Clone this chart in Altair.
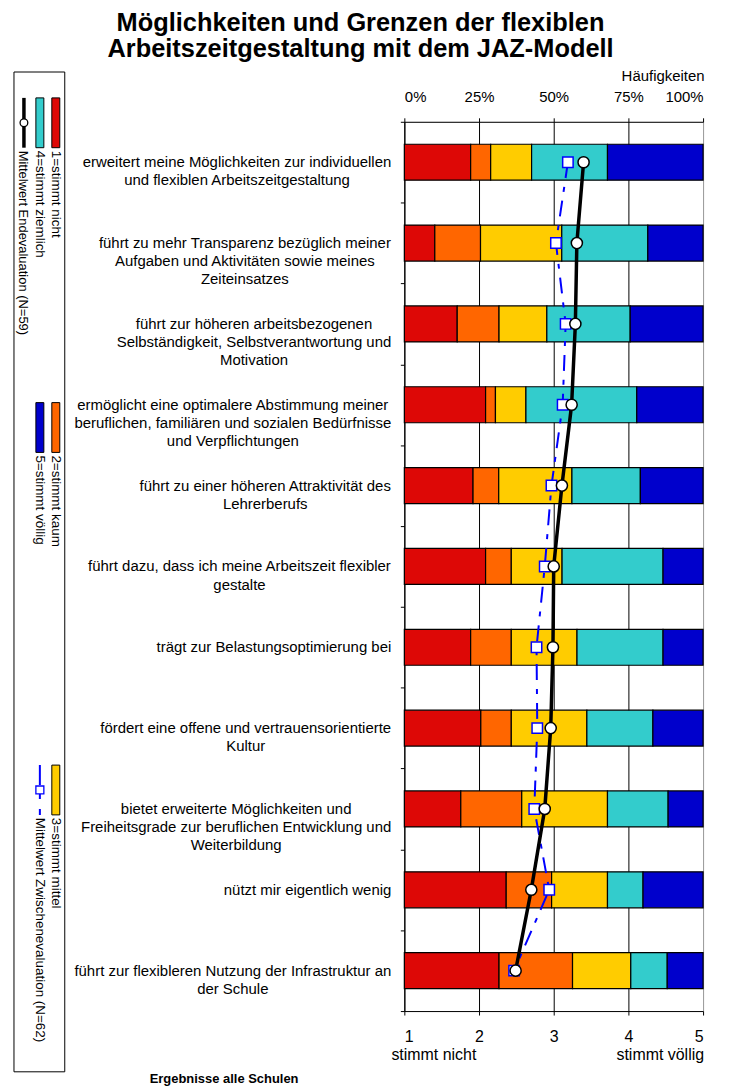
import altair as alt
import pandas as pd

# ---------------- data ----------------
label_lines = [
    ["erweitert meine Möglichkeiten zur individuellen", "und flexiblen Arbeitszeitgestaltung"],
    ["führt zu mehr Transparenz bezüglich meiner", "Aufgaben und Aktivitäten sowie meines", "Zeiteinsatzes"],
    ["führt zur höheren arbeitsbezogenen", "Selbständigkeit, Selbstverantwortung und", "Motivation"],
    ["ermöglicht eine optimalere Abstimmung meiner", "beruflichen, familiären und sozialen Bedürfnisse", "und Verpflichtungen"],
    ["führt zu einer höheren Attraktivität des", "Lehrerberufs"],
    ["führt dazu, dass ich meine Arbeitszeit flexibler", "gestalte"],
    ["trägt zur Belastungsoptimierung bei"],
    ["fördert eine offene und vertrauensorientierte", "Kultur"],
    ["bietet erweiterte Möglichkeiten und", "Freiheitsgrade zur beruflichen Entwicklung und", "Weiterbildung"],
    ["nützt mir eigentlich wenig"],
    ["führt zur flexibleren Nutzung der Infrastruktur an", "der Schule"],
]
categories = [" ".join(l) for l in label_lines]

level_labels = ["1=stimmt nicht", "2=stimmt kaum", "3=stimmt mittel", "4=stimmt ziemlich", "5=stimmt völlig"]
level_colors = ["#DD0806", "#FF6600", "#FFCC00", "#33CCCC", "#0000CC"]

# percentage shares per answer level (rows in category order)
pct_1 = [22.2, 10.2, 17.7, 27.2, 23.0, 27.2, 22.2, 25.6, 18.9, 34.1, 31.7]
pct_2 = [6.7, 15.3, 14.0, 3.3, 8.6, 8.6, 13.6, 10.2, 20.4, 15.2, 24.6]
pct_3 = [13.7, 27.2, 16.0, 10.2, 24.5, 17.0, 22.0, 25.3, 28.7, 18.7, 19.5]
pct_4 = [25.4, 28.8, 27.9, 37.1, 22.9, 33.8, 28.8, 22.1, 20.3, 11.9, 12.2]
pct_5 = [32.0, 18.5, 24.4, 22.2, 21.0, 13.4, 13.4, 16.8, 11.7, 20.1, 12.0]

mean_end = [3.40, 3.31, 3.29, 3.24, 3.11, 3.00, 2.99, 2.96, 2.88, 2.70, 2.49]
mean_zw = [3.19, 3.03, 3.16, 3.12, 2.97, 2.88, 2.77, 2.78, 2.74, 2.94, 2.47]

top_ticks = [0, 25, 50, 75, 100]
bottom_ticks = [1, 2, 3, 4, 5]
end_labels = ["stimmt nicht", "stimmt völlig"]
series_labels = ["Mittelwert Endevaluation (N=59)", "Mittelwert Zwischenevaluation  (N=62)"]
title_lines = ["Möglichkeiten und Grenzen der flexiblen", "Arbeitszeitgestaltung mit dem JAZ-Modell"]
footer = "Ergebnisse alle Schulen"

FONT = "Liberation Sans"
W, H = 300, 893

# ---------------- tables ----------------
pcts = [pct_1, pct_2, pct_3, pct_4, pct_5]
bars_df = pd.DataFrame(
    [{"cat": c, "level": j + 1, "pct": pcts[j][i]} for i, c in enumerate(categories) for j in range(5)]
)
score_df = pd.DataFrame({"cat": categories, "idx": list(range(len(categories))),
                         "end": mean_end, "zw": mean_zw})

# Arial / Liberation Sans advance widths (1/1000 em) for label block layout
AW = {" ": 278, ",": 278, ".": 278, "-": 333, "(": 333, ")": 333, "=": 584,
      "a": 556, "b": 556, "c": 500, "d": 556, "e": 556, "f": 278, "g": 556, "h": 556, "i": 222,
      "j": 222, "k": 500, "l": 222, "m": 833, "n": 556, "o": 556, "p": 556, "q": 556, "r": 333,
      "s": 500, "t": 278, "u": 556, "v": 500, "w": 722, "x": 500, "y": 500, "z": 500,
      "ä": 556, "ö": 556, "ü": 556, "ß": 611,
      "A": 667, "B": 667, "E": 667, "F": 611, "I": 278, "K": 722, "L": 556, "M": 833, "N": 722,
      "S": 667, "T": 611, "V": 667, "W": 944, "Z": 611}
LAB_FS = 15


def tw(s, fs):
    return sum(AW.get(ch, 556) for ch in s) / 1000.0 * fs


label_df = pd.DataFrame({
    "cat": categories,
    "txt": ["\n".join(l) for l in label_lines],
    "lx": [-13 - max(tw(s, LAB_FS) for s in l) / 2.0 for l in label_lines],
})

one = pd.DataFrame({"a": [0]})

# ---------------- encodings ----------------
y_enc = alt.Y("cat:N", sort=categories,
              scale=alt.Scale(paddingInner=0, paddingOuter=0),
              axis=alt.Axis(title=None, labels=False, ticks=True, tickBand="extent", tickSize=4,
                            tickColor="black", domain=True, domainColor="black", grid=False))

xs_score = alt.Scale(domain=[1, 5], nice=False, zero=False)
ax_bottom = alt.Axis(orient="bottom", values=bottom_ticks, grid=False, tickSize=4, tickColor="black",
                     domainColor="black", labelPadding=27, labelBaseline="alphabetic",
                     labelFontSize=16, labelColor="black", labelFont=FONT, title=None, format="d")

bars = alt.Chart(bars_df).mark_bar(height={"band": 0.445}, stroke="black", strokeWidth=1.2).encode(
    x=alt.X("pct:Q", stack="zero", scale=alt.Scale(domain=[0, 100], nice=False),
            axis=alt.Axis(orient="top", values=top_ticks, labelExpr="datum.value + '%'",
                          grid=True, gridColor={"condition": {"test": "datum.value === 100", "value": "#9a9a9a"},
                                                "value": "black"},
                          gridWidth=1, tickSize=4, tickColor="black", domainColor="black",
                          labelPadding=16, labelBaseline="alphabetic", labelFontSize=15,
                          labelColor="black", labelFont=FONT,
                          title="Häufigkeiten", titleX=301, titleY=-46, titleAlign="right",
                          titleBaseline="middle", titleFontWeight="normal", titleFontSize=15,
                          titleFont=FONT, titleColor="black")),
    y=y_enc,
    color=alt.Color("level:O", scale=alt.Scale(domain=[1, 2, 3, 4, 5], range=level_colors), legend=None),
    order=alt.Order("level:Q", sort="ascending"),
)

labels = alt.Chart(label_df).mark_text(
    align="center", baseline="middle", lineBreak="\n", lineHeight=18.3,
    font=FONT, fontSize=LAB_FS, color="black",
).encode(x=alt.X("lx:Q", scale=None, axis=None), y=y_enc, text="txt:N")

blue_line = alt.Chart(score_df).mark_line(color="#0000FF", strokeWidth=2, strokeDash=[16, 9, 5, 9]).encode(
    x=alt.X("zw:Q", scale=xs_score, axis=ax_bottom), y=y_enc, order="idx:Q")
squares = alt.Chart(score_df).mark_point(shape="square", filled=True, fill="white", stroke="#0000FF",
                                         strokeWidth=1.5, size=110, opacity=1).encode(
    x=alt.X("zw:Q", scale=xs_score, axis=ax_bottom), y=y_enc)
black_line = alt.Chart(score_df).mark_line(color="black", strokeWidth=3.5).encode(
    x=alt.X("end:Q", scale=xs_score, axis=ax_bottom), y=y_enc, order="idx:Q")
circles = alt.Chart(score_df).mark_point(shape="circle", filled=True, fill="white", stroke="black",
                                         strokeWidth=1.5, size=125, opacity=1).encode(
    x=alt.X("end:Q", scale=xs_score, axis=ax_bottom), y=y_enc)

end_df = pd.DataFrame({"v": [bottom_ticks[0]], "t": [end_labels[0]]})
end_df2 = pd.DataFrame({"v": [bottom_ticks[-1]], "t": [end_labels[1]]})
txt_left = alt.Chart(end_df).mark_text(align="left", baseline="alphabetic", dx=-13, font=FONT,
                                       fontSize=16, color="black").encode(
    x=alt.X("v:Q", scale=xs_score, axis=ax_bottom), y=alt.value(H + 49), text="t:N")
txt_right = alt.Chart(end_df2).mark_text(align="right", baseline="alphabetic", dx=1, font=FONT,
                                         fontSize=16, color="black").encode(
    x=alt.X("v:Q", scale=xs_score, axis=ax_bottom), y=alt.value(H + 49), text="t:N")

score_layer = alt.layer(blue_line, squares, black_line, circles, txt_left, txt_right)

# ---------------- rotated legend ----------------
LX0 = -392  # legend frame (relative to plot origin)
legend_layers = [
    alt.Chart(one).mark_rect(fill="white", stroke="black", strokeWidth=1).encode(
        x=alt.value(LX0), x2=alt.value(LX0 + 51), y=alt.value(-50), y2=alt.value(954))
]
col_x = [-350, -366, -383]          # columns of the legend (screen x)
grp_y = [-24, 282, 646]             # start of each legend row (screen y)
SW = 50                              # swatch length
# colour items: (column, group)
slots = [(0, 0), (0, 1), (0, 2), (1, 0), (1, 1)]
for k, (ci, gi) in enumerate(slots):
    cx, gy = col_x[ci], grp_y[gi]
    legend_layers.append(
        alt.Chart(one).mark_rect(fill=level_colors[k], stroke="black", strokeWidth=1).encode(
            x=alt.value(cx - 4), x2=alt.value(cx + 4), y=alt.value(gy), y2=alt.value(gy + SW)))
    legend_layers.append(
        alt.Chart(one).mark_text(text=level_labels[k], angle=90, align="left", baseline="middle",
                                 font=FONT, fontSize=13.5, color="black").encode(
            x=alt.value(cx), y=alt.value(gy + SW + 3)))
# Endevaluation symbol (column 2, group 0)
cx, gy = col_x[2], grp_y[0]
legend_layers += [
    alt.Chart(one).mark_rule(color="black", strokeWidth=3.5).encode(
        x=alt.value(cx + 1), y=alt.value(gy), y2=alt.value(gy + SW)),
    alt.Chart(one).mark_point(shape="circle", filled=True, fill="white", stroke="black", strokeWidth=1.3,
                              size=60, opacity=1).encode(x=alt.value(cx + 1), y=alt.value(gy + SW / 2)),
    alt.Chart(one).mark_text(text=series_labels[0], angle=90, align="left", baseline="middle",
                             font=FONT, fontSize=13, color="black").encode(
        x=alt.value(cx), y=alt.value(gy + SW + 3)),
]
# Zwischenevaluation symbol (column 1, group 2)
cx, gy = col_x[1], grp_y[2]
legend_layers += [
    alt.Chart(one).mark_rule(color="#0000FF", strokeWidth=2, strokeDash=[20, 2, 12, 10, 6]).encode(
        x=alt.value(cx), y=alt.value(gy), y2=alt.value(gy + SW)),
    alt.Chart(one).mark_point(shape="square", filled=True, fill="white", stroke="#0000FF", strokeWidth=1.3,
                              size=64, opacity=1).encode(x=alt.value(cx), y=alt.value(gy + 25)),
    alt.Chart(one).mark_text(text=series_labels[1], angle=90, align="left", baseline="middle",
                             font=FONT, fontSize=13.5, color="black").encode(
        x=alt.value(cx), y=alt.value(gy + SW + 3)),
]

footer_layer = alt.Chart(one).mark_text(text=footer, align="center", baseline="alphabetic", font=FONT,
                                        fontSize=13, fontWeight="bold", color="black").encode(
    x=alt.value(-181), y=alt.value(965))

chart = alt.layer(*legend_layers, bars, labels, score_layer, footer_layer).resolve_scale(
    x="independent"
).properties(
    width=W, height=H,
    padding={"left": 398, "right": 19, "top": 112, "bottom": 78},
    autosize=alt.AutoSizeParams(type="none"),
    title=alt.TitleParams(title_lines, font=FONT, fontSize=25.5, fontWeight="bold", color="black",
                          anchor="middle", frame="group", dx=-194, offset=7, lineHeight=26),
).configure_view(stroke="#9a9a9a").configure(font=FONT)

chart.save("out.html", embed_options={"renderer": "svg", "actions": False})
